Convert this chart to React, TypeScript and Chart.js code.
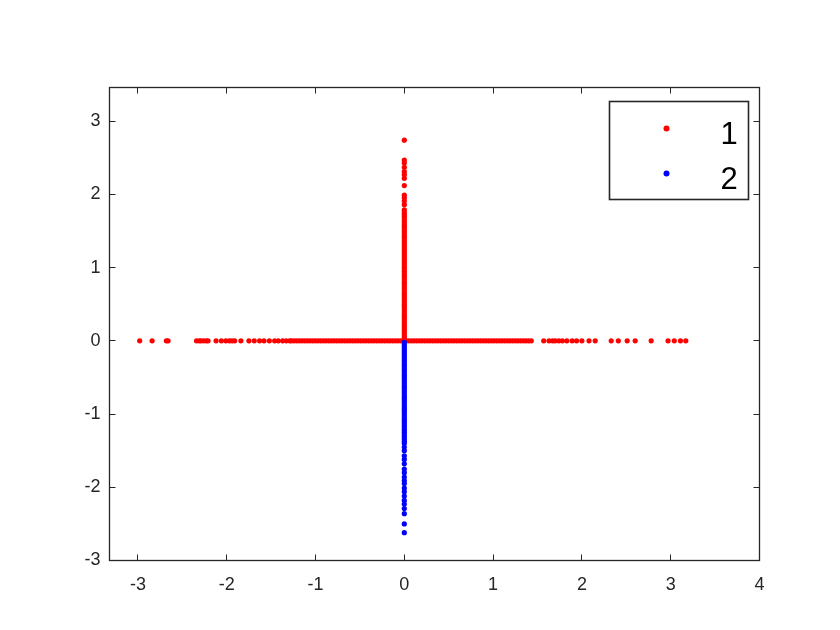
import React, { useEffect, useRef } from "react";
import { Chart, registerables } from "chart.js";

Chart.register(...registerables);

// Series "1": points lying on the horizontal axis (y = 0), given by their x values
const s1OnXAxis: number[] = [
  -2.98, -2.84, -2.68, -2.66, -2.34, -2.31, -2.29, -2.26, -2.23, -2.21, -2.12,
  -2.06, -2.01, -1.97, -1.94, -1.91, -1.84, -1.75, -1.69, -1.63, -1.58, -1.52,
  -1.46, -1.42, -1.37, -1.33, -1.29,
  -1.27, -1.24, -1.21, -1.18, -1.15, -1.12, -1.09, -1.06, -1.03, -1.0, -0.97,
  -0.94, -0.91, -0.88, -0.85, -0.82, -0.79, -0.76, -0.73, -0.7, -0.67, -0.64,
  -0.61, -0.58, -0.55, -0.52, -0.49, -0.46, -0.43, -0.4, -0.37, -0.34, -0.31,
  -0.28, -0.25, -0.22, -0.19, -0.16, -0.13, -0.1, -0.07, -0.04, -0.01, 0.02,
  0.05, 0.08, 0.11, 0.14, 0.17, 0.2, 0.23, 0.26, 0.29, 0.32, 0.35, 0.38, 0.41,
  0.44, 0.47, 0.5, 0.53, 0.56, 0.59, 0.62, 0.65, 0.68, 0.71, 0.74, 0.77, 0.8,
  0.83, 0.86, 0.89, 0.92, 0.95, 0.98, 1.01, 1.04, 1.07, 1.1, 1.13, 1.16, 1.19,
  1.22, 1.25, 1.28, 1.31, 1.34, 1.37, 1.4, 1.43,
  1.57, 1.63, 1.67, 1.7, 1.74, 1.78, 1.83, 1.89, 1.94, 2.0, 2.08, 2.15, 2.33,
  2.41, 2.51, 2.6, 2.78, 2.97, 3.04, 3.11, 3.17,
];

// Series "1": points lying on the vertical axis (x = 0), given by their y values
const s1OnYAxis: number[] = [
  0.02, 0.05, 0.08, 0.11, 0.14, 0.17, 0.2, 0.23, 0.26, 0.29, 0.32, 0.35, 0.38,
  0.41, 0.44, 0.47, 0.5, 0.53, 0.56, 0.59, 0.62, 0.65, 0.68, 0.71, 0.74, 0.77,
  0.8, 0.83, 0.86, 0.89, 0.92, 0.95, 0.98, 1.01, 1.04, 1.07, 1.1, 1.13, 1.16,
  1.19, 1.22, 1.25, 1.28, 1.31, 1.34, 1.37, 1.4, 1.43, 1.46, 1.49, 1.52, 1.55,
  1.58, 1.61, 1.64, 1.67, 1.7, 1.73, 1.76, 1.79,
  1.86, 1.91, 1.95, 1.99, 2.12, 2.22, 2.27, 2.31, 2.37, 2.43, 2.47, 2.74,
];

// Series "2": points lying on the vertical axis (x = 0), given by their y values
const s2OnYAxis: number[] = [
  -0.02, -0.05, -0.08, -0.11, -0.14, -0.17, -0.2, -0.23, -0.26, -0.29, -0.32,
  -0.35, -0.38, -0.41, -0.44, -0.47, -0.5, -0.53, -0.56, -0.59, -0.62, -0.65,
  -0.68, -0.71, -0.74, -0.77, -0.8, -0.83, -0.86, -0.89, -0.92, -0.95, -0.98,
  -1.01, -1.04, -1.07, -1.1, -1.13, -1.16, -1.19, -1.22, -1.25, -1.28, -1.31,
  -1.34, -1.37,
  -1.4, -1.45, -1.5, -1.57, -1.62, -1.68, -1.75, -1.8, -1.86, -1.91, -1.95,
  -2.01, -2.06, -2.12, -2.18, -2.23, -2.29, -2.36, -2.5, -2.62,
];

const seriesLabels = ["1", "2"];
const seriesColors = ["#ff0000", "#0000ff"];

const xMin = -3.32;
const xMax = 4;
const yMin = -3;
const yMax = 3.46;

const AXIS_COLOR = "#262626";
const FONT = "'Liberation Sans', Arial, Helvetica, sans-serif";

const boxAndTicksPlugin = {
  id: "boxAndTicks",
  afterDatasetsDraw(chart: any) {
    const { ctx, chartArea } = chart;
    const L = Math.floor(chartArea.left) + 0.5;
    const R = Math.floor(chartArea.right) + 0.5;
    const T = Math.floor(chartArea.top) + 0.5;
    const B = Math.floor(chartArea.bottom) + 0.5;
    const tl = 6;
    ctx.save();
    ctx.strokeStyle = AXIS_COLOR;
    ctx.lineWidth = 1;
    ctx.beginPath();
    const xs = chart.scales.x;
    xs.ticks.forEach((t: any) => {
      const px = Math.floor(xs.getPixelForValue(t.value)) + 0.5;
      ctx.moveTo(px, B);
      ctx.lineTo(px, B - tl);
      ctx.moveTo(px, T);
      ctx.lineTo(px, T + tl);
    });
    const ys = chart.scales.y;
    ys.ticks.forEach((t: any) => {
      const py = Math.floor(ys.getPixelForValue(t.value)) + 0.5;
      ctx.moveTo(L, py);
      ctx.lineTo(L + tl, py);
      ctx.moveTo(R, py);
      ctx.lineTo(R - tl, py);
    });
    ctx.stroke();
    ctx.lineWidth = 1.3;
    ctx.strokeRect(L, T, R - L, B - T);
    ctx.restore();
  },
};

const legendPlugin = {
  id: "insideLegend",
  afterDraw(chart: any) {
    const { ctx, chartArea } = chart;
    const w = 139;
    const h = 98;
    const bx = Math.floor(chartArea.right) - 11 - w + 0.5;
    const by = Math.floor(chartArea.top) + 14 + 0.5;
    ctx.save();
    ctx.fillStyle = "#ffffff";
    ctx.fillRect(bx, by, w, h);
    ctx.strokeStyle = AXIS_COLOR;
    ctx.lineWidth = 1.6;
    ctx.strokeRect(bx, by, w, h);
    chart.data.datasets.forEach((ds: any, i: number) => {
      const my = by + 27 + i * 45;
      ctx.fillStyle = ds.backgroundColor;
      ctx.beginPath();
      ctx.arc(bx + 57, my, 3, 0, Math.PI * 2);
      ctx.fill();
      ctx.fillStyle = "#000000";
      ctx.font = `31px ${FONT}`;
      ctx.textAlign = "left";
      ctx.textBaseline = "alphabetic";
      ctx.fillText(ds.label, bx + 111, my + 15);
    });
    ctx.restore();
  },
};

export default function App() {
  const canvasRef = useRef<HTMLCanvasElement | null>(null);

  useEffect(() => {
    if (!canvasRef.current) return;
    const data1 = [
      ...s1OnXAxis.map((x) => ({ x, y: 0 })),
      ...s1OnYAxis.map((y) => ({ x: 0, y })),
    ];
    const data2 = s2OnYAxis.map((y) => ({ x: 0, y }));

    const tickFont = { family: FONT, size: 18 };

    const chart = new Chart(canvasRef.current, {
      type: "scatter",
      data: {
        datasets: [
          {
            label: seriesLabels[0],
            data: data1,
            backgroundColor: seriesColors[0],
            borderWidth: 0,
            pointRadius: 2.6,
            pointHoverRadius: 2.6,
            order: 2,
          },
          {
            label: seriesLabels[1],
            data: data2,
            backgroundColor: seriesColors[1],
            borderWidth: 0,
            pointRadius: 2.6,
            pointHoverRadius: 2.6,
            order: 1,
          },
        ],
      },
      options: {
        responsive: false,
        animation: false,
        events: [],
        layout: { padding: { top: 87.5, right: 80.5, left: 0, bottom: 0 } },
        plugins: {
          legend: { display: false },
          tooltip: { enabled: false },
        },
        scales: {
          x: {
            type: "linear",
            position: "bottom",
            min: xMin,
            max: xMax,
            grid: { display: false, drawTicks: false, tickLength: 0 },
            border: { display: false },
            ticks: {
              stepSize: 1,
              includeBounds: false,
              color: AXIS_COLOR,
              font: tickFont,
              padding: 14,
              maxRotation: 0,
            },
            afterFit: (s: any) => {
              s.height = 69.5;
            },
          },
          y: {
            type: "linear",
            position: "left",
            min: yMin,
            max: yMax,
            grid: { display: false, drawTicks: false, tickLength: 0 },
            border: { display: false },
            ticks: {
              stepSize: 1,
              includeBounds: false,
              color: AXIS_COLOR,
              font: tickFont,
              padding: 9,
            },
            afterFit: (s: any) => {
              s.width = 109.5;
            },
          },
        },
      },
      plugins: [boxAndTicksPlugin, legendPlugin],
    } as any);

    return () => {
      chart.destroy();
    };
  }, []);

  return (
    <div
      style={{
        position: "absolute",
        left: 0,
        top: 0,
        width: 840,
        height: 630,
        background: "#ffffff",
      }}
    >
      <canvas ref={canvasRef} width={840} height={630} />
    </div>
  );
}
